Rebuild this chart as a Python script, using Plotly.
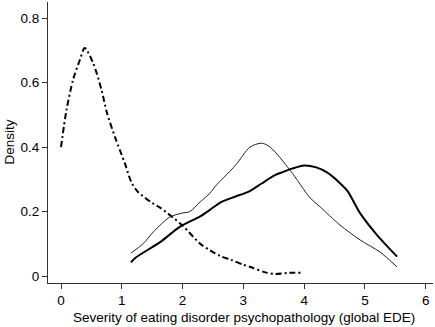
import plotly.graph_objects as go

# Group 1 (dash-dot)
x_a = [0.0, 0.09, 0.2, 0.31, 0.39, 0.53, 0.67, 0.75, 0.89, 1.05, 1.16, 1.27, 1.49, 1.63, 1.99, 2.29, 2.45, 2.62, 2.8, 3.0, 3.16, 3.35, 3.52, 3.75, 3.95]
y_a = [0.40, 0.515, 0.61, 0.67, 0.707, 0.66, 0.575, 0.51, 0.43, 0.35, 0.29, 0.26, 0.228, 0.212, 0.158, 0.10, 0.08, 0.062, 0.05, 0.035, 0.025, 0.012, 0.006, 0.01, 0.01]

# Group 2 (thin solid)
x_b = [1.15, 1.35, 1.52, 1.79, 1.99, 2.12, 2.29, 2.45, 2.56, 2.78, 2.89, 3.11, 3.3, 3.44, 3.77, 4.1, 4.26, 4.59, 4.92, 5.25, 5.53]
y_b = [0.071, 0.10, 0.137, 0.183, 0.195, 0.20, 0.23, 0.257, 0.283, 0.325, 0.348, 0.40, 0.412, 0.40, 0.328, 0.242, 0.215, 0.158, 0.112, 0.074, 0.028]

# Group 3 (thick solid)
x_c = [1.15, 1.22, 1.63, 1.96, 2.29, 2.45, 2.62, 2.86, 3.08, 3.3, 3.52, 3.66, 3.8, 4.0, 4.2, 4.37, 4.59, 4.72, 4.92, 5.2, 5.53]
y_c = [0.042, 0.056, 0.105, 0.153, 0.185, 0.205, 0.228, 0.246, 0.261, 0.287, 0.313, 0.323, 0.333, 0.343, 0.337, 0.322, 0.288, 0.262, 0.195, 0.127, 0.06]

x_ticks = [0, 1, 2, 3, 4, 5, 6]
y_ticks = [0, 0.2, 0.4, 0.6, 0.8]
y_tick_labels = ["0", "0.2", "0.4", "0.6", "0.8"]

FONT = "Liberation Sans, Arial, sans-serif"

fig = go.Figure()
fig.add_trace(go.Scatter(x=x_a, y=y_a, mode="lines", line=dict(color="#000000", width=2, dash="6px,3px,2px,3px", shape="spline", smoothing=0.8), showlegend=False))
fig.add_trace(go.Scatter(x=x_b, y=y_b, mode="lines", line=dict(color="#222222", width=1, shape="spline", smoothing=0.8), showlegend=False))
fig.add_trace(go.Scatter(x=x_c, y=y_c, mode="lines", line=dict(color="#000000", width=2, shape="spline", smoothing=0.8), showlegend=False))

fig.update_layout(
    width=435, height=327,
    margin=dict(l=48, r=2, t=2, b=44),
    paper_bgcolor="white", plot_bgcolor="white",
    font=dict(family=FONT, size=13.5, color="#000000"),
    xaxis=dict(range=[-0.214, 6.12], tickvals=x_ticks, ticks="outside", ticklen=5, tickcolor="#333333",
               showline=True, linecolor="#333333", linewidth=1, showgrid=False, zeroline=False,
               tickfont=dict(size=13.5), automargin=False),
    yaxis=dict(range=[-0.0217, 0.85], tickvals=y_ticks, ticktext=y_tick_labels, ticks="outside", ticklen=5,
               tickcolor="#333333", showline=True, linecolor="#333333", linewidth=1, showgrid=False,
               zeroline=False, tickfont=dict(size=13.5), automargin=False),
    annotations=[
        dict(text="Severity of eating disorder psychopathology (global EDE)", xref="paper", yref="paper",
             x=0.51, y=-0.088, xanchor="center", yanchor="top", showarrow=False, font=dict(size=13.5)),
        dict(text="Density", xref="paper", yref="paper", x=-0.101, y=0.5, xanchor="center", yanchor="middle",
             textangle=-90, showarrow=False, font=dict(size=13.5)),
    ],
)

fig.write_html("out.html", config={"displayModeBar": False},
               post_script="document.body.style.margin='0';document.body.style.padding='0';")
